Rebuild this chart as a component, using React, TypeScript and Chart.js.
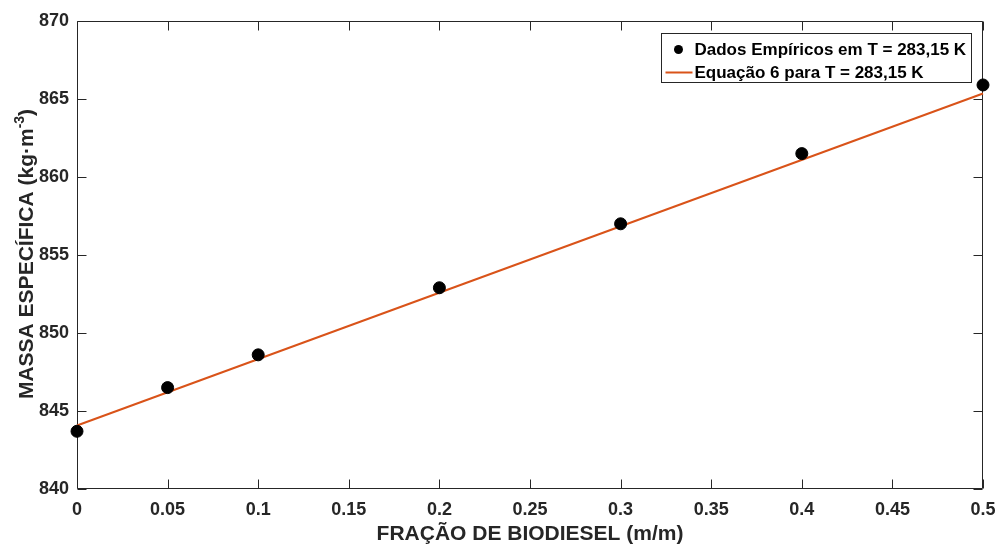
import { useEffect, useRef } from 'react';
import { Chart, registerables } from 'chart.js';

Chart.register(...registerables);

// ---- data ----
const xValues = [0, 0.05, 0.1, 0.2, 0.3, 0.4, 0.5];
const densityValues = [843.7, 846.5, 848.6, 852.9, 857.0, 861.5, 865.9];
const fitX = [0, 0.5];
const fitValues = [844.07, 865.35];
const xTicks = [0, 0.05, 0.1, 0.15, 0.2, 0.25, 0.3, 0.35, 0.4, 0.45, 0.5];
const xTickLabels = ['0', '0.05', '0.1', '0.15', '0.2', '0.25', '0.3', '0.35', '0.4', '0.45', '0.5'];
const yTicks = [840, 845, 850, 855, 860, 865, 870];
const yTickLabels = ['840', '845', '850', '855', '860', '865', '870'];
const seriesLabels = ['Dados Empíricos em T = 283,15 K', 'Equação 6 para T = 283,15 K'];
const xTitle = 'FRAÇÃO DE BIODIESEL (m/m)';
const yTitleMain = 'MASSA ESPECÍFICA (kg·m';
const yTitleSup = '-3';
const yTitleEnd = ')';

const FONT = '"Liberation Sans", Arial, Helvetica, sans-serif';
const AXIS_COLOR = '#262626';
const ORANGE = '#D95319';

const matlabPlugin = {
  id: 'matlabAxes',
  beforeDatasetsDraw(chart: any) {
    const { ctx, chartArea } = chart;
    const { left, top, right, bottom } = chartArea;
    const xs = chart.scales.x;
    const ys = chart.scales.y;
    const L = Math.round(left) + 0.5;
    const R = Math.round(right) - 0.5;
    const T = Math.round(top) + 0.5;
    const B = Math.round(bottom) - 0.5;
    const tl = 9;
    ctx.save();
    ctx.strokeStyle = AXIS_COLOR;
    ctx.lineWidth = 1;
    ctx.beginPath();
    ctx.rect(L, T, R - L, B - T);
    for (const v of xTicks) {
      const px = Math.round(xs.getPixelForValue(v)) + 0.5;
      ctx.moveTo(px, B);
      ctx.lineTo(px, B - tl);
      ctx.moveTo(px, T);
      ctx.lineTo(px, T + tl);
    }
    for (const v of yTicks) {
      const py = Math.round(ys.getPixelForValue(v)) + 0.5;
      ctx.moveTo(L, py);
      ctx.lineTo(L + tl, py);
      ctx.moveTo(R, py);
      ctx.lineTo(R - tl, py);
    }
    ctx.stroke();
    ctx.restore();
  },
  afterDraw(chart: any) {
    const { ctx, chartArea } = chart;
    // ---- legend ----
    ctx.save();
    ctx.font = `bold 17px ${FONT}`;
    const labels = chart.data.datasets.map((d: any) => d.label as string);
    const maxW = Math.max(...labels.map((t: string) => ctx.measureText(t).width));
    const boxW = Math.round(33 + maxW + 5);
    const boxH = 49;
    const boxRight = chartArea.right - 12;
    const boxLeft = Math.round(boxRight - boxW) + 0.5;
    const boxTop = Math.round(chartArea.top + 12) + 0.5;
    ctx.fillStyle = '#ffffff';
    ctx.fillRect(boxLeft, boxTop, boxW, boxH);
    ctx.strokeStyle = AXIS_COLOR;
    ctx.lineWidth = 1;
    ctx.strokeRect(boxLeft, boxTop, boxW, boxH);
    const rowY = [boxTop + 16, boxTop + 39];
    ctx.fillStyle = '#000';
    ctx.beginPath();
    ctx.arc(boxLeft + 17, rowY[0], 4.5, 0, Math.PI * 2);
    ctx.fill();
    ctx.strokeStyle = ORANGE;
    ctx.lineWidth = 2;
    ctx.beginPath();
    ctx.moveTo(boxLeft + 4, rowY[1]);
    ctx.lineTo(boxLeft + 31, rowY[1]);
    ctx.stroke();
    ctx.fillStyle = '#000';
    ctx.textBaseline = 'middle';
    ctx.textAlign = 'left';
    labels.forEach((t: string, i: number) => {
      ctx.fillText(t, boxLeft + 33, rowY[i] + 1);
    });
    ctx.restore();

    // ---- y title with superscript ----
    ctx.save();
    const cy = (chartArea.top + chartArea.bottom) / 2 - 1;
    ctx.translate(32.5, cy);
    ctx.rotate(-Math.PI / 2);
    ctx.fillStyle = AXIS_COLOR;
    ctx.textBaseline = 'alphabetic';
    ctx.textAlign = 'left';
    const mainFont = `bold 21px ${FONT}`;
    const supFont = `bold 14px ${FONT}`;
    ctx.font = mainFont;
    const w1 = ctx.measureText(yTitleMain).width;
    const w3 = ctx.measureText(yTitleEnd).width;
    ctx.font = supFont;
    const w2 = ctx.measureText(yTitleSup).width;
    const total = w1 + w2 + w3;
    let x0 = -total / 2;
    ctx.font = mainFont;
    ctx.fillText(yTitleMain, x0, 0);
    x0 += w1;
    ctx.font = supFont;
    ctx.fillText(yTitleSup, x0, -9);
    x0 += w2;
    ctx.font = mainFont;
    ctx.fillText(yTitleEnd, x0, 0);
    ctx.restore();
  },
};

export default function App() {
  const canvasRef = useRef<HTMLCanvasElement | null>(null);

  useEffect(() => {
    const canvas = canvasRef.current;
    if (!canvas) return;
    const chart = new Chart(canvas, {
      type: 'scatter',
      data: {
        datasets: [
          {
            label: seriesLabels[0],
            data: xValues.map((x, i) => ({ x, y: densityValues[i] })),
            backgroundColor: '#000000',
            borderColor: '#000000',
            pointRadius: 6,
            pointHoverRadius: 6,
            showLine: false,
            clip: false as any,
          },
          {
            label: seriesLabels[1],
            data: fitX.map((x, i) => ({ x, y: fitValues[i] })),
            borderColor: ORANGE,
            backgroundColor: ORANGE,
            borderWidth: 2,
            pointRadius: 0,
            pointHoverRadius: 0,
            showLine: true,
            clip: false as any,
          },
        ],
      },
      options: {
        responsive: false,
        animation: false,
        devicePixelRatio: 1,
        layout: { padding: { top: 21, right: 14, left: 0, bottom: 0 } },
        plugins: {
          legend: { display: false },
          tooltip: { enabled: false },
        },
        scales: {
          x: {
            type: 'linear',
            min: 0,
            max: 0.5,
            afterBuildTicks: (s: any) => {
              s.ticks = xTicks.map((v) => ({ value: v }));
            },
            afterFit: (s: any) => {
              s.height = 56;
              s.paddingLeft = 0;
              s.paddingRight = 0;
            },
            grid: { display: false, drawTicks: false },
            border: { display: false },
            ticks: {
              color: AXIS_COLOR,
              font: { family: FONT, size: 18, weight: 'bold' },
              padding: 10,
              maxRotation: 0,
              autoSkip: false,
              callback: (_v: any, i: number) => xTickLabels[i],
            },
            title: {
              display: true,
              text: xTitle,
              color: AXIS_COLOR,
              font: { family: FONT, size: 21, weight: 'bold', lineHeight: 1 },
              padding: 0,
            },
          },
          y: {
            type: 'linear',
            min: 840,
            max: 870,
            afterBuildTicks: (s: any) => {
              s.ticks = yTicks.map((v) => ({ value: v }));
            },
            afterFit: (s: any) => {
              s.width = 77;
              s.paddingTop = 0;
              s.paddingBottom = 0;
            },
            grid: { display: false, drawTicks: false },
            border: { display: false },
            ticks: {
              color: AXIS_COLOR,
              font: { family: FONT, size: 18, weight: 'bold' },
              padding: 8,
              autoSkip: false,
              callback: (_v: any, i: number) => yTickLabels[i],
            },
          },
        },
      },
      plugins: [matlabPlugin],
    });
    return () => chart.destroy();
  }, []);

  return (
    <div style={{ position: 'absolute', left: 0, top: 0, width: 997, height: 545 }}>
      <canvas ref={canvasRef} width={997} height={545} style={{ display: 'block' }} />
    </div>
  );
}
